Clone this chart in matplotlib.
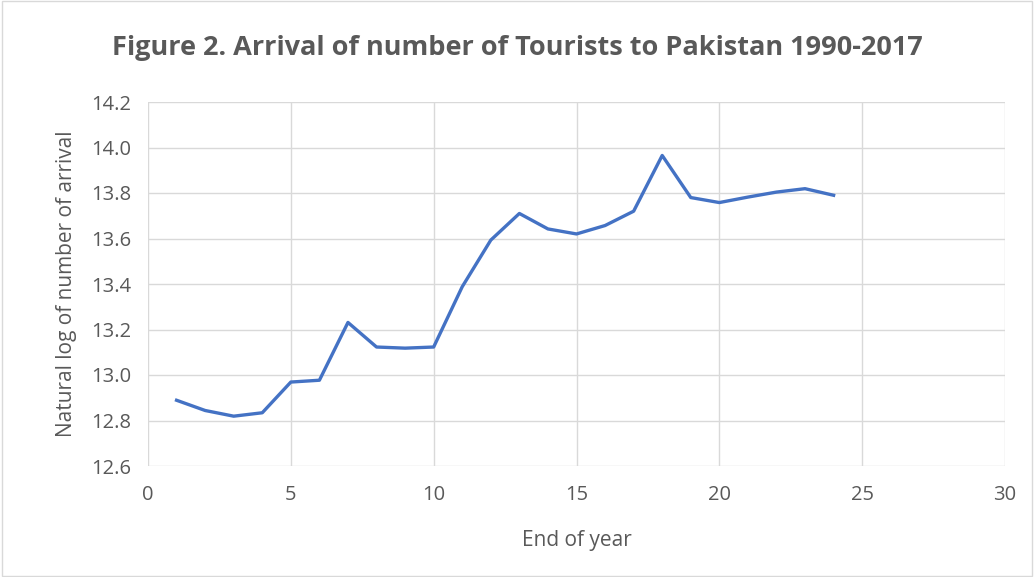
import matplotlib.pyplot as plt

# values
years = list(range(1, 25))
log_arrivals = [12.889, 12.844, 12.819, 12.834, 12.969, 12.977, 13.231, 13.123,
                13.118, 13.123, 13.388, 13.593, 13.710, 13.642, 13.620, 13.657,
                13.720, 13.965, 13.780, 13.758, 13.782, 13.804, 13.819, 13.790]
x_ticks = [0, 5, 10, 15, 20, 25, 30]
y_ticks = [12.6, 12.8, 13.0, 13.2, 13.4, 13.6, 13.8, 14.0, 14.2]

plt.rcParams['font.family'] = ['Open Sans', 'DejaVu Sans']
grey = '#595959'

fig = plt.figure(figsize=(10.34, 5.77), dpi=100)
ax = fig.add_axes([148/1034, 1-466/577, (1005-148)/1034, (466-102)/577])

ax.plot(years, log_arrivals, color='#4472C4', linewidth=2.4, solid_joinstyle='round')

ax.set_xlim(0, 30)
ax.set_ylim(12.6, 14.2)
ax.set_xticks(x_ticks)
ax.set_yticks(y_ticks)
ax.set_yticklabels(['%.1f' % v for v in y_ticks])
ax.grid(True, color='#D9D9D9', linewidth=1)
ax.set_axisbelow(True)
for s in ax.spines.values():
    s.set_visible(False)
ax.tick_params(length=0, labelsize=14.5, labelcolor=grey)
ax.tick_params(axis='x', pad=14)
ax.tick_params(axis='y', pad=12)

ax.set_xlabel('End of year', fontsize=15, color=grey, labelpad=18)
ax.set_ylabel('Natural log of number of arrival', fontsize=15, color=grey, labelpad=10)
fig.text(0.5, 1-48/577, 'Figure 2. Arrival of number of Tourists to Pakistan 1990-2017',
         ha='center', va='center', fontsize=19.5, fontweight='bold', color=grey)

fig.patches.append(plt.Rectangle((0.002, 0.002), 0.996, 0.996, transform=fig.transFigure,
                                 fill=False, edgecolor='#D9D9D9', linewidth=1))

fig.savefig('out.png', dpi=100)
